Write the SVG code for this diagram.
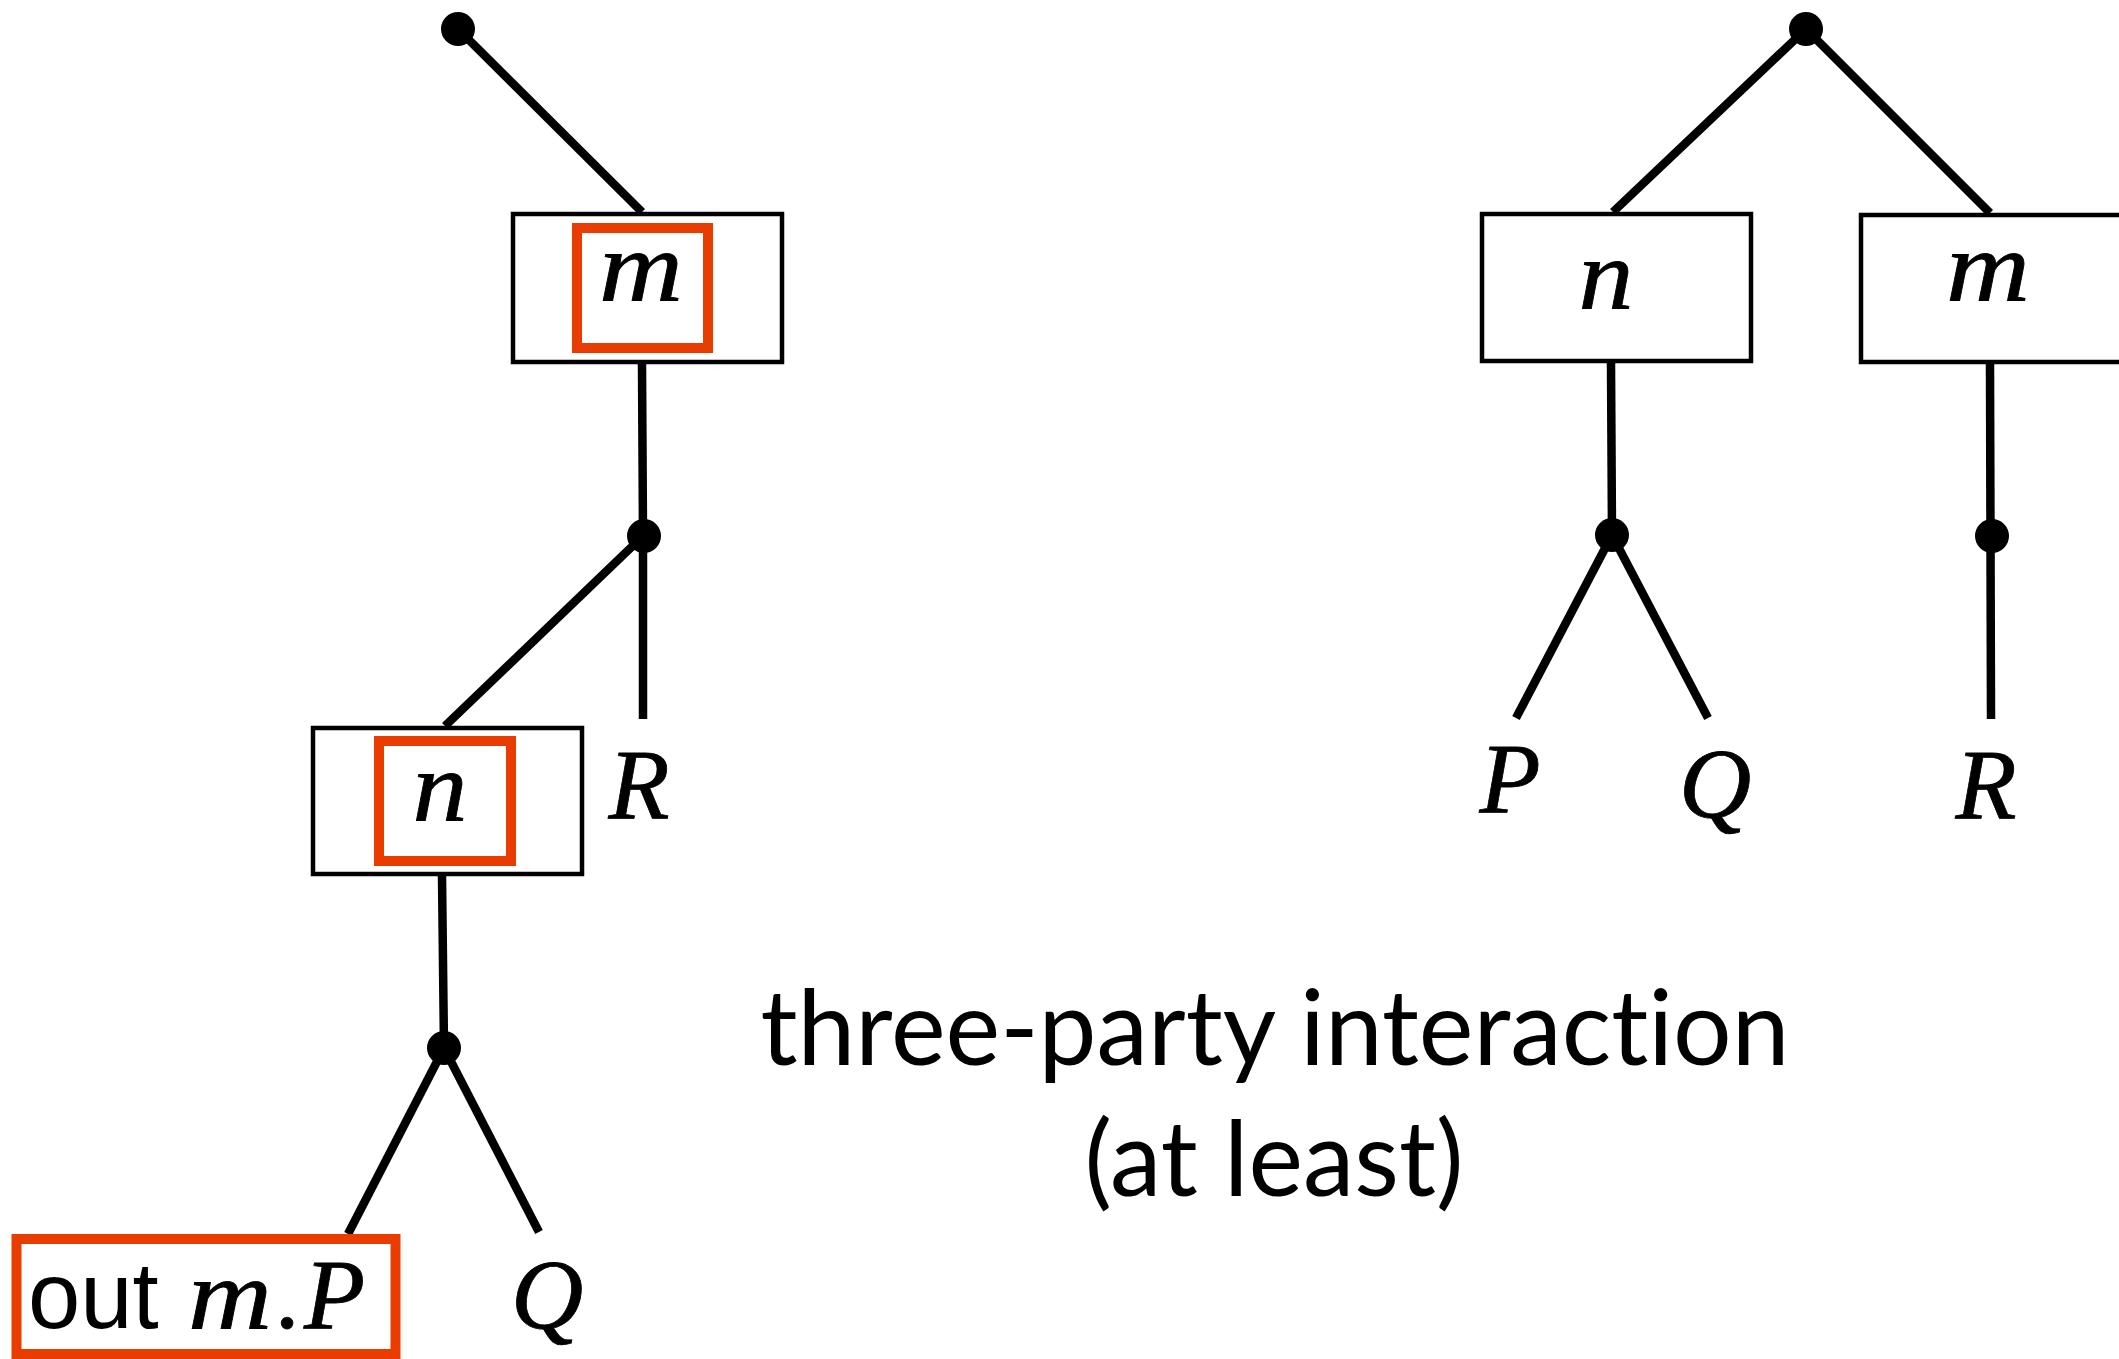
<svg xmlns="http://www.w3.org/2000/svg" width="2119" height="1359" viewBox="0 0 2119 1359">
  <style>
    .box { fill: #ffffff; stroke: #000000; stroke-width: 4.5; }
    .hl { fill: none; stroke: #e93c00; stroke-width: 10; }
    .edge { stroke: #000000; stroke-width: 8.5; fill: none; }
    .dot { fill: #000000; }
    .math { font-family: "Liberation Serif", "DejaVu Serif", serif; font-style: italic; font-size: 100px; fill: #000000; stroke: #000000; stroke-width: 0.8; }
    .sf { font-family: "Liberation Sans", "DejaVu Sans", sans-serif; font-size: 94px; fill: #000000; }
    .caption { font-family: Lato, "Open Sans", sans-serif; font-size: 104px; fill: #000000; text-anchor: middle; font-variant-ligatures: none; }
  </style>

  <rect width="2119" height="1359" fill="#ffffff"/>

  <!-- connectors -->
  <g id="connectors">
    <!-- left tree -->
    <line class="edge" x1="458" y1="29" x2="642" y2="212"/>
    <line class="edge" x1="642" y1="364" x2="643" y2="536"/>
    <line class="edge" x1="643" y1="536" x2="643" y2="719"/>
    <line class="edge" x1="643" y1="536" x2="445" y2="726"/>
    <line class="edge" x1="442" y1="876" x2="444" y2="1048"/>
    <line class="edge" x1="444" y1="1048" x2="348" y2="1234"/>
    <line class="edge" x1="444" y1="1048" x2="539" y2="1232"/>
    <!-- right tree -->
    <line class="edge" x1="1806" y1="29" x2="1613" y2="212"/>
    <line class="edge" x1="1806" y1="29" x2="1990" y2="213"/>
    <line class="edge" x1="1611" y1="363" x2="1612" y2="535"/>
    <line class="edge" x1="1612" y1="535" x2="1516" y2="718"/>
    <line class="edge" x1="1612" y1="535" x2="1708" y2="718"/>
    <line class="edge" x1="1990" y1="364" x2="1991" y2="719"/>
  </g>

  <!-- junction dots -->
  <g id="dot-left-root"><circle class="dot" cx="458" cy="29" r="17"/></g>
  <g id="dot-left-mid"><circle class="dot" cx="644" cy="536" r="17"/></g>
  <g id="dot-left-low"><circle class="dot" cx="444" cy="1048" r="17"/></g>
  <g id="dot-right-root"><circle class="dot" cx="1806" cy="29" r="17"/></g>
  <g id="dot-right-n"><circle class="dot" cx="1612" cy="535" r="17"/></g>
  <g id="dot-right-m"><circle class="dot" cx="1992" cy="536" r="17"/></g>

  <!-- left tree nodes -->
  <g id="node-left-m">
    <rect class="box" x="513" y="214" width="269" height="148"/>
    <rect class="hl" x="577" y="228" width="131" height="120"/>
    <text class="math" x="641" y="300" text-anchor="middle" textLength="84" lengthAdjust="spacingAndGlyphs">m</text>
  </g>
  <g id="node-left-n">
    <rect class="box" x="313" y="728" width="269" height="146"/>
    <rect class="hl" x="379" y="741" width="132" height="120"/>
    <text class="math" x="440" y="820" text-anchor="middle" textLength="55" lengthAdjust="spacingAndGlyphs">n</text>
  </g>
  <g id="leaf-left-R">
    <text class="math" x="639" y="818" text-anchor="middle">R</text>
  </g>
  <g id="leaf-left-out">
    <rect class="hl" x="16.5" y="1239" width="379" height="115"/>
    <text y="1328"><tspan class="sf" x="28">out </tspan><tspan class="math" x="188" textLength="84" lengthAdjust="spacingAndGlyphs">m</tspan><tspan class="math" x="277">.</tspan><tspan class="math" x="304">P</tspan></text>
  </g>
  <g id="leaf-left-Q">
    <text class="math" x="547" y="1328" text-anchor="middle">Q</text>
  </g>

  <!-- right tree nodes -->
  <g id="node-right-n">
    <rect class="box" x="1482" y="214" width="269" height="147"/>
    <text class="math" x="1606" y="308" text-anchor="middle" textLength="55" lengthAdjust="spacingAndGlyphs">n</text>
  </g>
  <g id="node-right-m">
    <rect class="box" x="1861" y="215" width="269" height="147"/>
    <text class="math" x="1988" y="300" text-anchor="middle" textLength="84" lengthAdjust="spacingAndGlyphs">m</text>
  </g>
  <g id="leaf-right-P">
    <text class="math" x="1510" y="812" text-anchor="middle">P</text>
  </g>
  <g id="leaf-right-Q">
    <text class="math" x="1715" y="817" text-anchor="middle">Q</text>
  </g>
  <g id="leaf-right-R">
    <text class="math" x="1986" y="818" text-anchor="middle">R</text>
  </g>

  <!-- caption -->
  <g id="caption">
    <text class="caption" x="1275" y="1065" textLength="1029" lengthAdjust="spacingAndGlyphs">three-party interaction</text>
    <text class="caption" x="1274" y="1196" textLength="379" lengthAdjust="spacingAndGlyphs">(at least)</text>
  </g>
</svg>
